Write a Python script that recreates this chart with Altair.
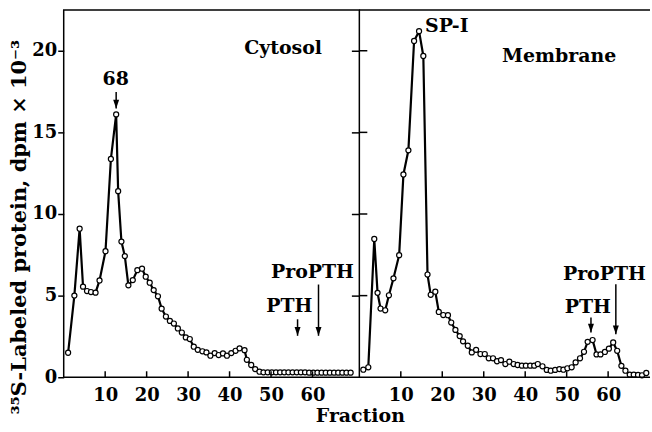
import altair as alt
import pandas as pd

# ---------------- data ----------------
cyt_frac = [1.06, 2.57, 3.84, 4.66, 5.62, 6.58, 7.68, 8.64, 10.08, 11.38,
            12.65, 13.13, 13.92, 14.74, 15.6, 16.66, 17.76, 18.89, 19.78, 20.74,
            21.7, 22.73, 23.62, 24.65, 25.61, 26.57, 27.53, 28.49, 29.45, 30.41,
            31.37, 32.33, 33.46, 34.42, 35.38, 36.41, 37.37, 38.41, 39.37, 40.42,
            41.45, 42.41, 43.61, 44.17, 45.22, 46.18, 47.21, 48.18,
            49.2, 50.2, 51.2, 52.2, 53.2, 54.2, 55.2, 56.2, 57.2, 58.2,
            59.2, 60.2, 61.2, 62.2, 63.2, 64.2, 65.2, 66.2, 67.2, 68.2, 69.2]
cyt_vals = [1.5, 5.0, 9.1, 5.55, 5.28, 5.22, 5.18, 5.93, 7.72, 13.37,
            16.1, 11.4, 8.31, 7.42, 5.63, 5.95, 6.56, 6.65, 6.16, 5.79,
            5.34, 4.96, 4.2, 3.72, 3.45, 3.29, 2.99, 2.74, 2.44, 2.34,
            1.87, 1.68, 1.59, 1.52, 1.32, 1.48, 1.36, 1.46, 1.32, 1.48,
            1.62, 1.77, 1.66, 1.07, 0.75, 0.5, 0.34, 0.3,
            0.3, 0.3, 0.3, 0.3, 0.3, 0.3, 0.3, 0.3, 0.3, 0.3,
            0.28, 0.28, 0.28, 0.28, 0.28, 0.28, 0.28, 0.28, 0.28, 0.28, 0.28]

mem_frac = [0.96, 2.16, 3.6, 4.39, 5.11, 6.24, 7.13, 8.23, 9.6, 10.63,
            11.83, 13.2, 14.4, 15.43, 16.44, 17.21, 18.32, 19.16, 20.24, 21.37,
            22.16, 23.17, 24.2, 25.01, 26.16, 27.12, 28.16, 29.21, 30.25, 31.21,
            32.24, 33.2, 34.16, 35.22, 36.18, 37.21, 38.17, 39.2, 40.16, 41.22,
            42.18, 43.04, 44.17, 45.2, 46.16, 47.22, 48.25, 49.21, 50.17, 51.2,
            52.16, 53.22, 54.18, 55.06, 56.25, 57.2, 58.16, 59.22, 60.18, 61.22,
            62.18, 63.2, 64.17, 65.22, 66.18, 67.21, 68.17, 69.2]
mem_vals = [0.46, 0.61, 8.47, 5.17, 4.21, 4.1, 5.02, 6.06, 7.48, 12.42,
            13.9, 20.6, 21.2, 19.68, 6.29, 5.05, 5.24, 4.0, 3.81, 3.8,
            3.35, 2.9, 2.52, 2.2, 1.93, 1.52, 1.68, 1.42, 1.42, 1.16,
            1.16, 0.98, 1.05, 0.81, 0.95, 0.81, 0.75, 0.71, 0.71, 0.71,
            0.71, 0.81, 0.67, 0.45, 0.4, 0.45, 0.5, 0.46, 0.55, 0.61,
            0.91, 1.16, 1.56, 2.17, 2.28, 1.4, 1.4, 1.55, 1.75, 2.13,
            1.62, 0.7, 0.4, 0.16, 0.16, 0.14, 0.12, 0.26]

x_ticks = [10, 20, 30, 40, 50, 60]
y_ticks = [0, 5, 10, 15, 20]
y_cross = [5, 10, 15, 20]

# annotations (label, fraction, value)
cyt_labels = ["Cytosol", "68", "ProPTH", "PTH"]
cyt_lab_f = [52.9, 12.53, 60.0, 54.4]
cyt_lab_v = [19.82, 17.88, 6.05, 3.98]
cyt_arrow_f = [12.65, 56.4, 61.45]
cyt_arrow_top = [17.48, 3.55, 5.68]
cyt_arrow_tip = [16.46, 2.54, 2.54]

mem_labels = ["Membrane", "ProPTH", "PTH"]
mem_lab_f = [48.2, 59.1, 55.1]
mem_lab_v = [19.3, 5.93, 3.96]
mem_sp_label = ["SP-I"]
mem_sp_f = [15.84]
mem_sp_v = [21.13]
mem_arrow_f = [55.86, 61.86]
mem_arrow_top = [3.66, 5.69]
mem_arrow_tip = [2.74, 2.64]

# ---------------- layout / style ----------------
W_L, W_R, H = 297, 292, 369
FONT = "DejaVu Serif"
y_title = "\u00b3\u2075S-Labeled protein, dpm \u00d7 10\u207b\u00b3"

yS = alt.Scale(domain=[0, 22.5], nice=False, zero=False)
xL = alt.Scale(domain=[0, 71.3], nice=False, zero=False)
xR = alt.Scale(domain=[0, 70.1], nice=False, zero=False)

head = "M-0.75,-2.2L0.75,-2.2L0,0Z"


def panel(frac, vals, xs, labels_df, arrows_df, yaxis, extra=None):
    df = pd.DataFrame({"f": frac, "v": vals})
    xaxis = alt.Axis(values=x_ticks, ticks=False, tickSize=0, domain=False,
                     grid=False, labelPadding=9, title=None)
    base = alt.Chart(df)
    line = base.mark_line(color="black", strokeWidth=2.2).encode(
        x=alt.X("f:Q", scale=xs, axis=xaxis),
        y=alt.Y("v:Q", scale=yS, axis=yaxis),
    )
    pts = base.mark_point(shape="circle", filled=True, fill="white", stroke="black",
                          strokeWidth=1.2, size=26, opacity=1).encode(
        x=alt.X("f:Q", scale=xs), y=alt.Y("v:Q", scale=yS))
    tk = alt.Chart(pd.DataFrame({"t": x_ticks})).mark_rule(
        color="black", strokeWidth=1.5).encode(
        x=alt.X("t:Q", scale=xs), y=alt.value(H), y2=alt.value(H - 6))
    txt = alt.Chart(labels_df).mark_text(
        font=FONT, fontWeight="bold", fontSize=19, color="black",
        align="center", baseline="alphabetic").encode(
        x=alt.X("f:Q", scale=xs), y=alt.Y("v:Q", scale=yS), text="label:N")
    arr = alt.Chart(arrows_df).mark_rule(color="black", strokeWidth=1.5).encode(
        x=alt.X("f:Q", scale=xs), y=alt.Y("top:Q", scale=yS), y2="tip:Q")
    hd = alt.Chart(arrows_df).mark_point(shape=head, filled=True, color="black",
                                        size=64, opacity=1).encode(
        x=alt.X("f:Q", scale=xs), y=alt.Y("tip:Q", scale=yS))
    layers = [line, pts, tk, txt, arr, hd]
    if extra:
        layers += extra
    return layers


left_axis = alt.Axis(values=y_ticks, tickSize=6, tickWidth=1.5, tickColor="black",
                     domain=False, grid=False, labelPadding=1,
                     title=y_title, titlePadding=2, titleFontSize=21,
                     titleAnchor="start", titleAlign="left", titleY=406)

left_layers = panel(cyt_frac, cyt_vals, xL,
                    pd.DataFrame({"label": cyt_labels, "f": cyt_lab_f, "v": cyt_lab_v}),
                    pd.DataFrame({"f": cyt_arrow_f, "top": cyt_arrow_top, "tip": cyt_arrow_tip}),
                    left_axis)
left = alt.layer(*left_layers).properties(
    width=W_L, height=H, view=alt.ViewBackground(stroke="black", strokeWidth=1.5))

right_axis = alt.Axis(values=y_cross, tickSize=8, tickWidth=1.5, tickColor="black",
                      domain=False, grid=False, labels=False, title=None)

one = pd.DataFrame({"a": [0]})
sp = alt.Chart(pd.DataFrame({"label": mem_sp_label, "f": mem_sp_f, "v": mem_sp_v})).mark_text(
    font=FONT, fontWeight="bold", fontSize=19, color="black",
    align="left", baseline="alphabetic").encode(
    x=alt.X("f:Q", scale=xR), y=alt.Y("v:Q", scale=yS), text="label:N")
cross_in = alt.Chart(pd.DataFrame({"c": y_cross})).mark_rule(
    color="black", strokeWidth=1.5).encode(
    y=alt.Y("c:Q", scale=yS), x=alt.value(0), x2=alt.value(8))
top_rule = alt.Chart(one).mark_rule(color="black", strokeWidth=1.5).encode(
    x=alt.value(0), x2=alt.value(W_R), y=alt.value(0))
bottom_rule = alt.Chart(one).mark_rule(color="black", strokeWidth=1.5).encode(
    x=alt.value(0), x2=alt.value(W_R), y=alt.value(H))
frac_title = alt.Chart(one).mark_text(
    font=FONT, fontWeight="bold", fontSize=19, color="black",
    align="center", baseline="alphabetic", text="Fraction").encode(
    x=alt.value(1), y=alt.value(H + 45))

right_layers = panel(mem_frac, mem_vals, xR,
                     pd.DataFrame({"label": mem_labels, "f": mem_lab_f, "v": mem_lab_v}),
                     pd.DataFrame({"f": mem_arrow_f, "top": mem_arrow_top, "tip": mem_arrow_tip}),
                     right_axis, extra=[sp, cross_in, top_rule, bottom_rule, frac_title])
right = alt.layer(*right_layers).properties(
    width=W_R, height=H, view=alt.ViewBackground(stroke="transparent", strokeWidth=0))

chart = alt.hconcat(left, right, spacing=0, bounds="flush").properties(
    padding={"left": 8, "top": 8, "right": 0, "bottom": 0},
    background="white",
).configure_view(stroke="black", strokeWidth=1.5).configure_axis(
    labelFont=FONT, labelFontWeight="bold", labelFontSize=18, labelColor="black",
    titleFont=FONT, titleFontWeight="bold", titleColor="black",
)

chart.save("out.html", embed_options={"renderer": "svg", "actions": False})
